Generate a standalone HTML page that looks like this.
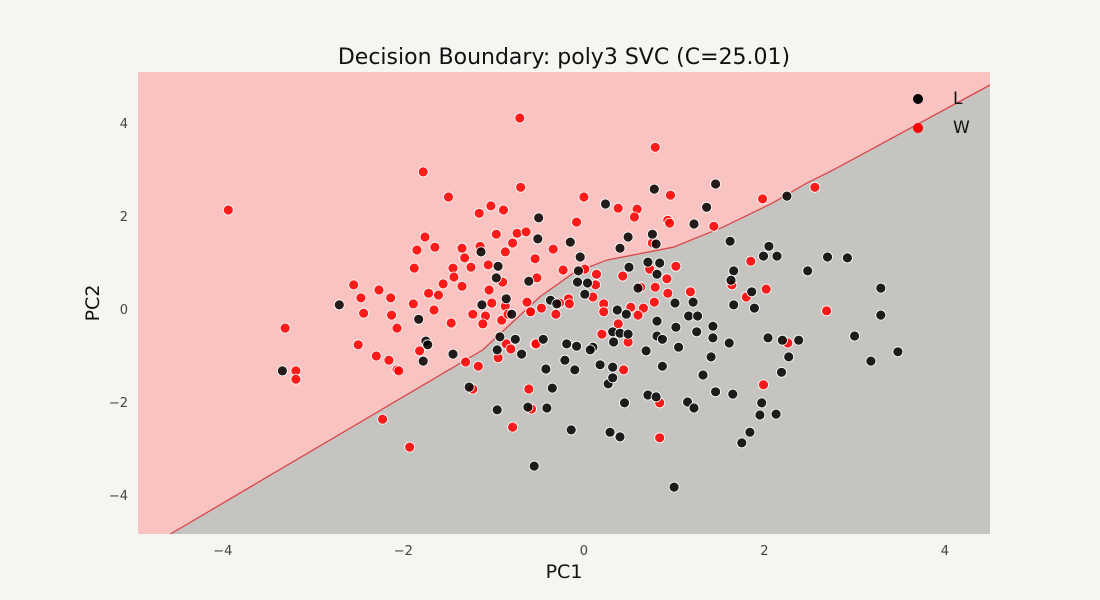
<!DOCTYPE html>
<html><head><meta charset="utf-8"><style>
body{margin:0;background:#f6f5f1;}
svg{display:block;font-family:"DejaVu Sans","Liberation Sans",sans-serif;}
</style></head><body>
<svg id="chart" width="1100" height="600">
<rect x="0" y="0" width="1100" height="600" fill="#f6f5f1"/>
<text x="564" y="64" text-anchor="middle" font-size="22" fill="#111">Decision Boundary: poly3 SVC (C=25.01)</text>
<g id="plot"></g>
<text x="564" y="578" text-anchor="middle" font-size="19" fill="#111">PC1</text>
<text x="99" y="303" text-anchor="middle" font-size="19" fill="#111" transform="rotate(-90 99 303)">PC2</text>
<g>
<circle cx="918" cy="99" r="5" fill="#000"/>
<text x="953" y="104" font-size="17" fill="#111">L</text>
<circle cx="918" cy="128" r="5" fill="#f00"/>
<text x="953" y="133" font-size="17" fill="#111">W</text>
</g>
</svg>
<script>
const xTicks=[-4,-2,0,2,4];
const yTicks=[-4,-2,0,2,4];
const boundaryX=[-4.58,-1.12,-0.49,-0.12,0.25,0.99,1.54,2.09,2.47,2.76,4.50];
const boundaryY=[-4.84,-0.88,0.26,0.77,1.05,1.33,1.76,2.28,2.71,2.99,4.82];
const wX=[-1.78,-1.50,-0.70,-1.16,-1.03,-0.89,-1.76,-1.85,-1.65,-1.35,-1.15,-0.97,-0.74,-0.64,-0.79,-0.87,-1.32,-1.88,-1.45,-1.44,-1.25,-1.06,-2.55,-2.27,-2.47,-2.14,-2.44,-2.13,-2.07,-1.56,-1.35,-1.72,-1.61,-1.89,-1.66,-1.47,-1.05,-0.90,-1.02,-0.87,-1.23,-1.09,-0.91,-0.84,-1.12,-0.63,-0.59,-0.52,-0.54,-3.31,-3.19,-3.19,-2.50,-2.30,-2.16,-2.07,-2.05,-1.82,-1.31,-2.23,-1.93,-1.17,-0.86,-0.81,-0.95,-0.54,-1.23,-0.61,-0.58,-0.79,-3.94,-0.71,0.79,0,0.38,0.59,0.56,0.96,-0.08,0.93,0.95,0.76,1.44,1.98,2.56,-0.23,-0.34,0.01,0.14,0.43,0.73,1.02,0.92,0.13,0.10,0.63,0.79,0.93,1.18,1.85,2.02,1.80,1.64,2.69,-0.17,-0.16,0.22,0.22,0.52,0.66,0.60,0.78,-0.47,-0.59,-0.31,-0.27,0.38,0.20,0.49,-0.53,2.26,0.84,0.84,1.99,0.44];
const wY=[2.95,2.41,2.62,2.06,2.22,2.13,1.55,1.27,1.33,1.31,1.35,1.61,1.63,1.66,1.42,1.23,1.10,0.88,0.88,0.69,0.90,0.95,0.52,0.41,0.24,0.24,-0.09,-0.13,-0.41,0.54,0.49,0.34,0.30,0.11,-0.02,-0.30,0.41,0.58,0.13,0.06,-0.11,-0.15,-0.24,-0.11,-0.32,0.15,-0.06,0.67,1.08,-0.41,-1.33,-1.51,-0.77,-1.01,-1.10,-1.31,-1.33,-0.90,-1.14,-2.37,-2.97,-1.23,-0.75,-0.86,-1.05,-0.75,-1.72,-1.72,-2.15,-2.54,2.13,4.11,3.48,2.41,2.17,2.15,1.98,2.45,1.87,1.91,1.85,1.42,1.78,2.37,2.62,0.84,1.29,0.86,0.75,0.71,0.86,0.92,0.65,0.52,0.26,0.47,0.47,0.34,0.37,1.03,0.43,0.26,0.52,-0.04,0.22,0.11,0.11,-0.06,0.04,0.02,-0.13,0.15,0.02,-0.06,-0.11,0.13,-0.32,-0.54,-0.71,-0.75,-0.73,-2.02,-2.77,-1.63,-1.31];
const lX=[-2.71,-3.34,-1.83,-1.75,-1.73,-1.78,-1.45,-1.14,-0.95,-0.97,-0.86,-1.13,-0.80,-0.61,-0.93,-0.76,-0.96,-0.69,-1.27,-0.96,-0.62,-0.50,-0.51,1.62,2.05,1.99,2.14,2.70,2.48,1.66,1.63,1.86,1.89,1.66,0.71,0.84,0.50,0.81,-0.06,-0.07,0.04,0.01,-0.37,-0.30,1.01,1.21,0.60,1.16,1.26,0.81,0.37,0.47,1.02,1.43,1.25,0.32,0.40,0.49,0.81,0.87,2.04,2.20,2.38,1.43,1.61,0.33,1.05,0.10,-0.08,-0.19,-0.45,-0.41,-0.35,-0.42,-0.14,-0.55,1.00,0.29,0.40,0.45,0.27,0.32,0.32,-0.10,-0.21,0.07,0.18,0.69,0.87,0.71,0.80,1.15,1.22,1.32,1.41,1.46,1.65,1.75,1.84,1.95,1.97,2.13,2.19,2.27,3.00,3.18,3.29,3.29,3.48,2.92,2.25,1.46,1.36,1.22,0.78,0.24,0.49,0.40,0.80,0.76,-0.15,-0.04];
const lY=[0.09,-1.33,-0.22,-0.69,-0.77,-1.12,-0.97,1.23,0.92,0.67,0.22,0.09,-0.11,0.60,-0.60,-0.65,-0.88,-0.97,-1.68,-2.17,-2.11,1.96,1.51,1.46,1.35,1.14,1.14,1.12,0.82,0.82,0.62,0.37,0.02,0.09,1.01,0.99,0.90,0.75,0.82,0.58,0.56,0.32,0.19,0.11,0.13,0.15,0.45,-0.15,-0.15,-0.26,-0.02,-0.11,-0.39,-0.37,-0.49,-0.49,-0.52,-0.54,-0.58,-0.65,-0.62,-0.67,-0.67,-0.62,-0.73,-0.71,-0.82,-0.82,-0.80,-0.75,-0.65,-2.13,-1.70,-1.29,-2.60,-3.38,-3.83,-2.65,-2.75,-2.02,-1.61,-1.48,-1.25,-1.31,-1.10,-0.88,-1.20,-0.90,-1.23,-1.85,-1.89,-2.00,-2.13,-1.42,-1.03,-1.78,-1.83,-2.88,-2.65,-2.28,-2.02,-2.26,-1.36,-1.03,-0.58,-1.12,-0.13,0.45,-0.92,1.10,2.43,2.69,2.19,1.83,2.58,2.26,1.55,1.31,1.40,1.61,1.44,1.12];

const NS='http://www.w3.org/2000/svg';
const L=138,R=990,T=72,B=534;
const xMin=-4.94,xMax=4.50,yMin=-4.84,yMax=5.10;
const sx=v=>L+(v-xMin)/(xMax-xMin)*(R-L);
const sy=v=>B-(v-yMin)/(yMax-yMin)*(B-T);
const plot=document.getElementById('plot');
function mk(tag,attrs){const e=document.createElementNS(NS,tag);for(const k in attrs)e.setAttribute(k,attrs[k]);return e;}

const bg=mk('rect',{x:L,y:T,width:R-L,height:B-T,fill:'#f8c3c1'});


plot.appendChild(bg);

let pts=boundaryX.map((v,i)=>sx(v).toFixed(1)+','+sy(boundaryY[i]).toFixed(1));
const gray=mk('polygon',{points:pts.join(' ')+' '+R+','+B+' '+sx(boundaryX[0]).toFixed(1)+','+B,fill:'#c5c4c0'});


plot.appendChild(gray);
const bl=mk('polyline',{points:pts.join(' '),fill:'none',stroke:'#d9474a','stroke-width':1.3});


plot.appendChild(bl);

xTicks.forEach(t=>{
  const tx=mk('text',{x:sx(t),y:B+21,'text-anchor':'middle','font-size':13,fill:'#444'});
  tx.textContent=t<0?'\u2212'+(-t):String(t);
  
  
  plot.appendChild(tx);
});
yTicks.forEach(t=>{
  const tx=mk('text',{x:L-10,y:sy(t)+5,'text-anchor':'end','font-size':13,fill:'#444'});
  tx.textContent=t<0?'\u2212'+(-t):String(t);
  
  
  plot.appendChild(tx);
});

function drawPts(xs,ys,color,name){
  xs.forEach((v,i)=>{
    const c=mk('circle',{cx:sx(v).toFixed(1),cy:sy(ys[i]).toFixed(1),r:5,fill:color,'fill-opacity':0.86,stroke:'#fff','stroke-width':0.8});
    
    
    plot.appendChild(c);
  });
}
drawPts(wX,wY,'#ff0000','point-w');
drawPts(lX,lY,'#000000','point-l');
</script>
</body></html>
